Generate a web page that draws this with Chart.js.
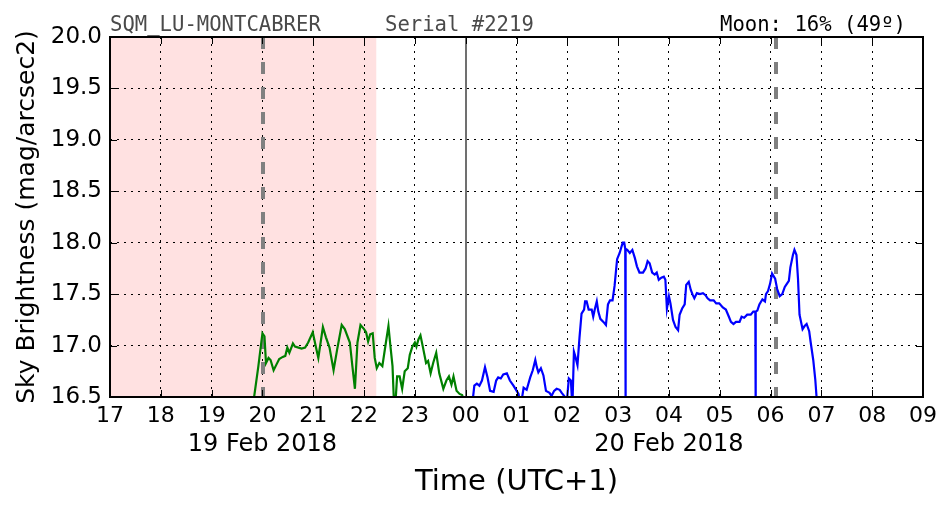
<!DOCTYPE html>
<html>
<head>
<meta charset="utf-8">
<script src="https://cdn.jsdelivr.net/npm/chart.js@4.4.0/dist/chart.umd.min.js"></script>
<style>
  html, body { margin: 0; padding: 0; background: #fff; }
</style>
</head>
<body>
<canvas id="sqm" width="952" height="512"></canvas>
<script>
// hours counted from 00 on 19 Feb (so 24 = 00h on 20 Feb)
const greenHours = [19.78, 19.92, 20.00, 20.04, 20.07, 20.12, 20.16, 20.22, 20.27, 20.33, 20.40, 20.45, 20.49, 20.53, 20.60, 20.64, 20.71, 20.77, 20.84, 20.90, 20.99, 21.05, 21.10, 21.19, 21.25, 21.32, 21.40, 21.47, 21.56, 21.62, 21.72, 21.77, 21.82, 21.87, 21.93, 22.00, 22.04, 22.08, 22.12, 22.17, 22.21, 22.25, 22.30, 22.36, 22.43, 22.48, 22.52, 22.56, 22.60, 22.65, 22.70, 22.75, 22.80, 22.86, 22.90, 22.95, 23.00, 23.03, 23.07, 23.11, 23.16, 23.22, 23.26, 23.31, 23.36, 23.42, 23.48, 23.56, 23.62, 23.67, 23.72, 23.76, 23.82, 23.88, 23.93, 23.97];
const greenMags = [16.30, 16.80, 17.12, 17.09, 16.83, 16.88, 16.86, 16.76, 16.81, 16.87, 16.89, 16.90, 16.98, 16.93, 17.02, 16.99, 16.98, 16.97, 16.98, 17.03, 17.13, 16.99, 16.88, 17.18, 17.08, 16.98, 16.76, 16.96, 17.20, 17.16, 17.03, 16.80, 16.58, 17.03, 17.20, 17.16, 17.13, 17.04, 17.11, 17.12, 16.88, 16.78, 16.83, 16.80, 17.03, 17.19, 16.99, 16.80, 16.30, 16.70, 16.70, 16.58, 16.75, 16.78, 16.91, 16.99, 17.03, 16.99, 17.06, 17.10, 16.98, 16.83, 16.85, 16.73, 16.83, 16.93, 16.73, 16.58, 16.66, 16.70, 16.62, 16.70, 16.56, 16.53, 16.52, 16.45];

const blueHours = [24.10, 24.17, 24.22, 24.27, 24.32, 24.38, 24.43, 24.48, 24.55, 24.60, 24.64, 24.69, 24.74, 24.81, 24.87, 24.94, 25.04, 25.08, 25.14, 25.20, 25.27, 25.32, 25.37, 25.40, 25.43, 25.48, 25.53, 25.58, 25.65, 25.69, 25.74, 25.79, 25.85, 25.89, 25.94, 25.99, 26.03, 26.07, 26.10, 26.13, 26.16, 26.20, 26.24, 26.28, 26.33, 26.35, 26.38, 26.42, 26.48, 26.51, 26.54, 26.58, 26.61, 26.65, 26.71, 26.76, 26.80, 26.84, 26.89, 26.93, 26.98, 27.03, 27.09, 27.12, 27.14, 27.145, 27.15, 27.18, 27.23, 27.28, 27.33, 27.37, 27.42, 27.49, 27.54, 27.58, 27.62, 27.67, 27.72, 27.76, 27.80, 27.85, 27.90, 27.93, 27.96, 28.00, 28.03, 28.08, 28.13, 28.18, 28.21, 28.26, 28.31, 28.34, 28.39, 28.43, 28.47, 28.50, 28.55, 28.61, 28.67, 28.72, 28.76, 28.81, 28.88, 28.93, 28.99, 29.06, 29.12, 29.18, 29.22, 29.27, 29.32, 29.39, 29.43, 29.48, 29.54, 29.61, 29.66, 29.70, 29.705, 29.71, 29.74, 29.78, 29.84, 29.89, 29.91, 29.95, 29.99, 30.03, 30.09, 30.13, 30.18, 30.23, 30.28, 30.32, 30.36, 30.39, 30.44, 30.47, 30.51, 30.54, 30.57, 30.63, 30.67, 30.71, 30.76, 30.79, 30.84, 30.88, 30.92];
const blueMags = [16.30, 16.61, 16.63, 16.61, 16.66, 16.79, 16.69, 16.56, 16.55, 16.66, 16.69, 16.68, 16.72, 16.73, 16.66, 16.61, 16.53, 16.40, 16.59, 16.57, 16.69, 16.76, 16.86, 16.79, 16.74, 16.78, 16.71, 16.56, 16.54, 16.51, 16.56, 16.58, 16.57, 16.54, 16.51, 16.45, 16.68, 16.66, 16.40, 16.94, 16.89, 16.81, 17.08, 17.31, 17.35, 17.43, 17.43, 17.35, 17.35, 17.28, 17.35, 17.43, 17.33, 17.26, 17.23, 17.20, 17.40, 17.44, 17.44, 17.58, 17.84, 17.90, 18.00, 18.00, 17.94, 16.30, 17.94, 17.93, 17.90, 17.93, 17.85, 17.77, 17.71, 17.71, 17.75, 17.82, 17.80, 17.71, 17.69, 17.71, 17.64, 17.66, 17.67, 17.64, 17.36, 17.48, 17.41, 17.25, 17.18, 17.15, 17.30, 17.36, 17.40, 17.59, 17.62, 17.54, 17.49, 17.46, 17.51, 17.50, 17.51, 17.49, 17.46, 17.44, 17.44, 17.41, 17.41, 17.37, 17.35, 17.28, 17.23, 17.21, 17.23, 17.23, 17.28, 17.27, 17.30, 17.30, 17.33, 17.33, 16.30, 17.33, 17.34, 17.40, 17.45, 17.43, 17.50, 17.53, 17.60, 17.70, 17.65, 17.55, 17.48, 17.50, 17.57, 17.60, 17.63, 17.76, 17.88, 17.93, 17.88, 17.65, 17.30, 17.16, 17.19, 17.21, 17.14, 17.03, 16.86, 16.67, 16.40];

const twilightSpan = [17, 22.24];     // shaded band
const dashedMarks = [20.01, 30.10];   // grey dashed lines
const midnight = 24;
const dateLabels = [[20, '19 Feb 2018'], [28, '20 Feb 2018']];

const toPoints = (hs, ms) => hs.map((h, i) => ({ x: h, y: ms[i] }));

const decorations = {
    id: 'decorations',
    beforeDraw(chart) {
        const { ctx, chartArea: a, scales: { x } } = chart;
        ctx.save();
        ctx.fillStyle = '#fff';
        ctx.fillRect(0, 0, chart.width, chart.height);
        ctx.fillStyle = '#ffe1e1';
        const x0 = x.getPixelForValue(twilightSpan[0]);
        const x1 = x.getPixelForValue(twilightSpan[1]);
        ctx.fillRect(x0, a.top, x1 - x0, a.bottom - a.top);
        ctx.restore();
    },
    beforeDatasetsDraw(chart) {
        const { ctx, chartArea: a, scales: { x } } = chart;
        ctx.save();
        ctx.strokeStyle = '#808080';
        ctx.lineWidth = 4;
        ctx.setLineDash([12, 13]);
        dashedMarks.forEach(h => {
            const px = Math.round(x.getPixelForValue(h));
            ctx.beginPath();
            ctx.moveTo(px, a.top);
            ctx.lineTo(px, a.bottom);
            ctx.stroke();
        });
        ctx.setLineDash([]);
        ctx.lineWidth = 2;
        ctx.strokeStyle = '#707070';
        const mx = Math.round(x.getPixelForValue(midnight));
        ctx.beginPath();
        ctx.moveTo(mx, a.top);
        ctx.lineTo(mx, a.bottom);
        ctx.stroke();
        ctx.restore();
    },
    afterDraw(chart) {
        const { ctx, chartArea: a, scales: { x, y } } = chart;
        ctx.save();
        // frame
        ctx.strokeStyle = '#000';
        ctx.lineWidth = 2;
        ctx.strokeRect(a.left, a.top, a.right - a.left, a.bottom - a.top);
        // inward ticks
        ctx.lineWidth = 1;
        ctx.beginPath();
        x.ticks.forEach(t => {
            const px = Math.round(x.getPixelForValue(t.value)) + 0.5;
            ctx.moveTo(px, a.bottom); ctx.lineTo(px, a.bottom - 7);
            ctx.moveTo(px, a.top); ctx.lineTo(px, a.top + 7);
        });
        y.ticks.forEach(t => {
            const py = Math.round(y.getPixelForValue(t.value)) + 0.5;
            ctx.moveTo(a.left, py); ctx.lineTo(a.left + 7, py);
            ctx.moveTo(a.right, py); ctx.lineTo(a.right - 7, py);
        });
        ctx.stroke();
        // date labels under the hour ticks
        ctx.fillStyle = '#000';
        ctx.font = '24px "DejaVu Sans"';
        ctx.textAlign = 'center';
        ctx.textBaseline = 'middle';
        dateLabels.forEach(([h, txt]) => ctx.fillText(txt, x.getPixelForValue(h), 445));
        // header
        ctx.font = '20.6px "DejaVu Sans Mono"';
        ctx.textBaseline = 'alphabetic';
        ctx.textAlign = 'left';
        ctx.fillStyle = '#4a4a4a';
        ctx.fillText('SQM_LU-MONTCABRER', a.left, 31);
        ctx.fillText('Serial #2219', 385, 31);
        ctx.fillStyle = '#000';
        ctx.textAlign = 'right';
        ctx.fillText('Moon: 16% (49º)', 906, 31);
        ctx.restore();
    }
};

new Chart(document.getElementById('sqm'), {
    type: 'scatter',
    data: {
        datasets: [
            { data: toPoints(greenHours, greenMags), borderColor: '#008000', borderWidth: 2.2, showLine: true, pointRadius: 0, tension: 0 },
            { data: toPoints(blueHours, blueMags), borderColor: '#0000ff', borderWidth: 2.2, showLine: true, pointRadius: 0, tension: 0 }
        ]
    },
    options: {
        responsive: false,
        devicePixelRatio: 1,
        animation: false,
        layout: { padding: { top: 37, right: 29, left: 0, bottom: 0 } },
        plugins: { legend: { display: false }, tooltip: { enabled: false } },
        scales: {
            x: {
                type: 'linear', min: 17, max: 33,
                afterFit: s => { s.height = 115; },
                ticks: {
                    stepSize: 1, padding: 6, color: '#000',
                    font: { family: 'DejaVu Sans', size: 22 },
                    maxRotation: 0, autoSkip: false,
                    callback: v => String(v % 24).padStart(2, '0')
                },
                grid: { color: '#000', lineWidth: 1, drawTicks: false },
                border: { display: false, dash: [2, 5] },
                title: {
                    display: true, text: 'Time (UTC+1)', color: '#000',
                    font: { family: 'DejaVu Sans', size: 29 },
                    padding: { top: 0, bottom: 12 }
                }
            },
            y: {
                min: 16.5, max: 20,
                afterFit: s => { s.width = 110; },
                ticks: {
                    stepSize: 0.5, padding: 8, color: '#000',
                    font: { family: 'DejaVu Sans', size: 23 },
                    callback: v => v.toFixed(1)
                },
                grid: { color: '#000', lineWidth: 1, drawTicks: false },
                border: { display: false, dash: [2, 5] },
                title: {
                    display: true, text: 'Sky Brightness (mag/arcsec2)', color: '#000',
                    font: { family: 'DejaVu Sans', size: 25 },
                    padding: { top: 12, bottom: 0 }
                }
            }
        }
    },
    plugins: [decorations]
});
</script>
</body>
</html>
